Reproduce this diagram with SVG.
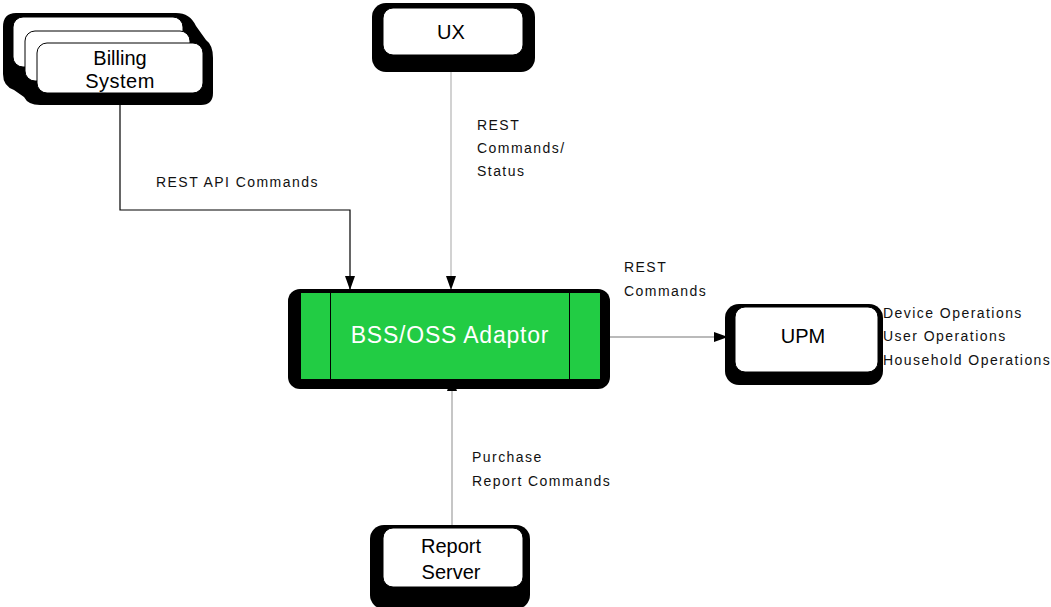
<svg xmlns="http://www.w3.org/2000/svg" width="1051" height="607" viewBox="0 0 1051 607">
<style>
.sh{fill:#000}
.card{fill:#fff;stroke:#000;stroke-width:1}
.big{font-family:"Liberation Sans",Arial,sans-serif;font-size:20px;fill:#000;text-anchor:middle}
.lbl{font-family:"Liberation Sans",Arial,sans-serif;font-size:14px;fill:#111;letter-spacing:1.45px}
.ln{fill:none;stroke-width:1.2}
</style>
<defs>
<marker id="ah" viewBox="0 0 14 10" refX="14" refY="5" markerWidth="14" markerHeight="10" markerUnits="userSpaceOnUse" orient="auto-start-reverse">
<path d="M0,0 L14,5 L0,10 Z" fill="#000"/>
</marker>
</defs>
<rect width="1051" height="607" fill="#fff"/>
<g id="connectors">
<path class="ln" d="M120,93 V210 H350 V290" stroke="#000" marker-end="url(#ah)"/>
<path class="ln" d="M451,58 V290" stroke="#b4b4b4" marker-start="url(#ah)" marker-end="url(#ah)"/>
<path class="ln" d="M452,525 V377" stroke="#a0a0a0" marker-end="url(#ah)"/>
<path class="ln" d="M610,337 H728" stroke="#777" marker-end="url(#ah)"/>
</g>
<g id="billing">
<path class="sh" d="M16,13 H176 Q190,13 196,26 L206,40 Q213,45 213,58 V93 Q213,105 201,105 H40 Q28,105 24,97 L14,90 Q3,86 3,74 V27 Q3,13 16,13 Z"/>
<rect class="card" x="13" y="17" width="170" height="50" rx="10"/>
<rect class="card" x="25" y="31" width="165" height="50" rx="10" stroke="#888"/>
<rect class="card" x="37" y="43" width="166" height="50" rx="10"/>
<text class="big" x="120" y="65">Billing</text>
<text class="big" x="120" y="88" letter-spacing="0.5">System</text>
</g>
<g id="ux">
<rect class="sh" x="372" y="3" width="163" height="69" rx="14"/>
<rect class="card" x="383" y="8" width="140" height="47" rx="10"/>
<text class="big" x="451" y="39">UX</text>
</g>
<g id="adaptor">
<rect class="sh" x="288" y="289" width="322" height="100" rx="12"/>
<rect x="301" y="293" width="299" height="86" fill="#22cc44"/>
<line x1="330.5" y1="293" x2="330.5" y2="379" stroke="#000" stroke-width="1"/>
<line x1="569.5" y1="293" x2="569.5" y2="379" stroke="#000" stroke-width="1"/>
<text x="450" y="343" font-family="Liberation Sans, Arial, sans-serif" font-size="23" fill="#fff" text-anchor="middle" letter-spacing="0.8">BSS/OSS Adaptor</text>
</g>
<g id="upm">
<rect class="sh" x="725" y="304" width="158" height="81" rx="14"/>
<rect class="card" x="735" y="307" width="143" height="65" rx="10"/>
<text class="big" x="803" y="343">UPM</text>
</g>
<g id="report">
<rect class="sh" x="370" y="525" width="160" height="84" rx="14"/>
<rect class="card" x="383" y="528" width="140" height="59" rx="10"/>
<text class="big" x="451" y="553">Report</text>
<text class="big" x="451" y="579">Server</text>
</g>
<g id="labels">
<text class="lbl" x="156" y="187">REST API Commands</text>
<text class="lbl" x="477" y="130">REST</text>
<text class="lbl" x="477" y="153">Commands/</text>
<text class="lbl" x="477" y="176">Status</text>
<text class="lbl" x="624" y="272">REST</text>
<text class="lbl" x="624" y="296">Commands</text>
<text class="lbl" x="472" y="462">Purchase</text>
<text class="lbl" x="472" y="486">Report Commands</text>
<text class="lbl" x="883" y="318">Device Operations</text>
<text class="lbl" x="883" y="341">User Operations</text>
<text class="lbl" x="883" y="365">Household Operations</text>
</g>
</svg>
